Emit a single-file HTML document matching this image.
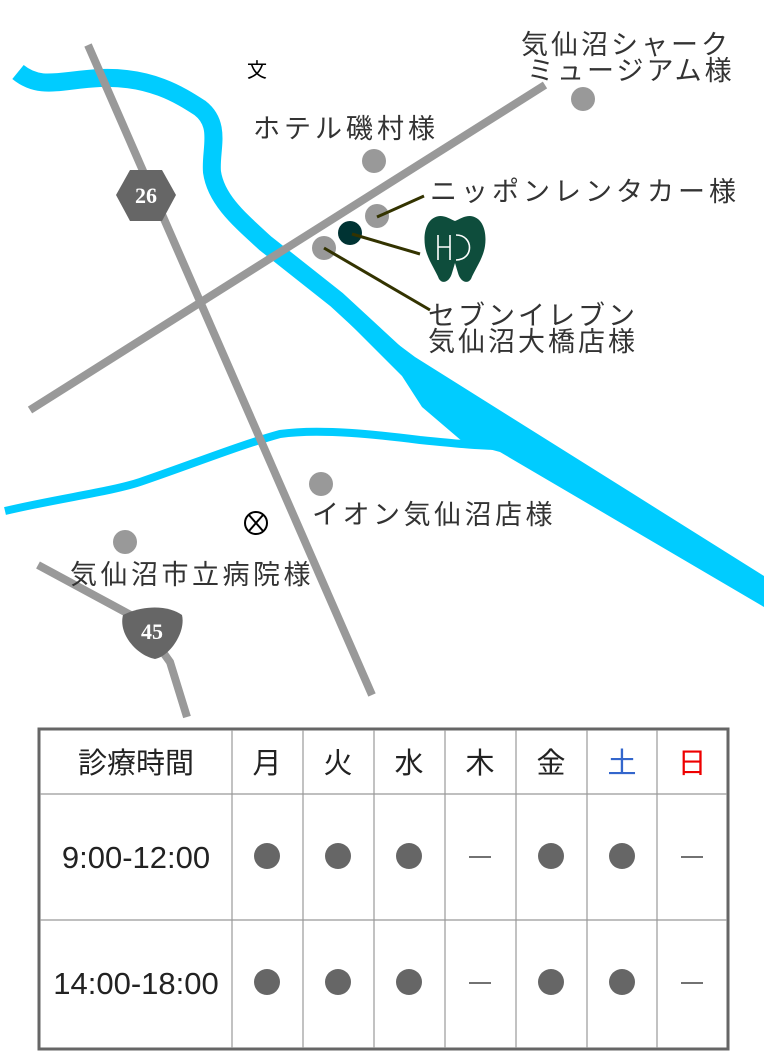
<!DOCTYPE html>
<html><head><meta charset="utf-8"><style>
html,body{margin:0;padding:0;background:#fff;}
svg{display:block;}
.l{font-family:"Liberation Sans","Noto Sans CJK JP",sans-serif;fill:#333;font-size:27px;}
.t{font-family:"Liberation Sans","Noto Sans CJK JP",sans-serif;fill:#222;font-size:29px;text-anchor:middle;}
</style></head><body>
<svg width="768" height="1056" viewBox="0 0 768 1056" xmlns="http://www.w3.org/2000/svg">
<!-- river -->
<path d="M18,72 C40,90 60,80 100,78 C150,76 180,95 200,108 C222,125 210,150 212,172 C216,200 240,220 265,243 L337,300 L415,372" fill="none" stroke="#00ccff" stroke-width="18"/>
<polygon points="330,304 402,376 422,407 463,442 500,452 764,607 764,576 415,357 344,304" fill="#00ccff"/>
<path d="M5,511 C60,498 110,492 140,482 C190,465 240,445 280,434 C320,428 380,435 420,440 C450,443 480,446 500,446" fill="none" stroke="#00ccff" stroke-width="8"/>
<!-- roads -->
<line x1="88" y1="45" x2="372" y2="695" stroke="#999" stroke-width="8"/>
<line x1="30" y1="410" x2="545" y2="85" stroke="#999" stroke-width="8"/>
<polyline points="38,565 140,620 170,662 187,717" fill="none" stroke="#999" stroke-width="8"/>
<!-- route shields -->
<polygon points="130,170 162,170 176,195 162,221 130,221 116,195" fill="#666"/>
<text x="146" y="203" font-family="Liberation Serif,serif" font-size="22" font-weight="bold" fill="#fff" text-anchor="middle">26</text>
<path d="M123,615 C145,604 170,606 182,615 C186,632 170,656 155,659 C138,656 118,635 123,615 Z" fill="#666"/>
<text x="152" y="639" font-family="Liberation Serif,serif" font-size="22" font-weight="bold" fill="#fff" text-anchor="middle">45</text>
<!-- symbols -->
<text x="257" y="77" font-size="20" text-anchor="middle" fill="#000" font-family="Noto Sans CJK JP,sans-serif">文</text>
<circle cx="256" cy="523" r="11" fill="none" stroke="#000" stroke-width="2"/>
<line x1="249" y1="515" x2="263" y2="531" stroke="#000" stroke-width="2"/>
<line x1="263" y1="515" x2="249" y2="531" stroke="#000" stroke-width="2"/>
<!-- POIs -->
<circle cx="374" cy="161" r="12" fill="#999"/>
<circle cx="583" cy="99" r="12" fill="#999"/>
<circle cx="377" cy="216" r="12" fill="#999"/>
<circle cx="324" cy="248" r="12" fill="#999"/>
<circle cx="350" cy="233" r="12" fill="#003333"/>
<circle cx="321" cy="484" r="12" fill="#999"/>
<circle cx="125" cy="542" r="12" fill="#999"/>
<!-- leader lines -->
<line x1="377" y1="217" x2="424" y2="196" stroke="#333300" stroke-width="3"/>
<line x1="352" y1="234" x2="420" y2="254" stroke="#333300" stroke-width="3"/>
<line x1="324" y1="248" x2="430" y2="310" stroke="#333300" stroke-width="3"/>
<!-- tooth logo -->
<path d="M440,216 C427,217 423,232 425,246 C427,259 435,269 439,279 C443,285 450,281 452,273 L455,263 L458,273 C460,281 467,285 471,279 C475,269 483,259 485,246 C487,232 483,217 470,216 C464,216 460,219 455,221 C450,219 446,216 440,216 Z" fill="#0e4d3c"/>
<path d="M438,235 V260 M438,247 H450 M450,235 V260 M456,235 C474,235 474,260 456,260" fill="none" stroke="#fff" stroke-width="1.6"/>
<!-- labels -->
<text class="l" x="253" y="138" letter-spacing="4">ホテル磯村様</text>
<text class="l" x="521" y="54" letter-spacing="3">気仙沼シャーク</text>
<text class="l" x="527" y="80" letter-spacing="3">ミュージアム様</text>
<text class="l" x="430" y="201" letter-spacing="4">ニッポンレンタカー様</text>
<text class="l" x="428" y="325" letter-spacing="3">セブンイレブン</text>
<text class="l" x="428" y="351" letter-spacing="3">気仙沼大橋店様</text>
<text class="l" x="312" y="524" letter-spacing="3.5">イオン気仙沼店様</text>
<text class="l" x="70" y="584" letter-spacing="3.5">気仙沼市立病院様</text>
<!-- table -->
<rect x="39" y="729" width="689" height="320" fill="#fff" stroke="#666" stroke-width="3"/>
<g stroke="#999" stroke-width="1.2">
<line x1="40" y1="794" x2="727" y2="794"/>
<line x1="40" y1="920" x2="727" y2="920"/>
<line x1="232" y1="730" x2="232" y2="1048"/>
<line x1="303" y1="730" x2="303" y2="1048"/>
<line x1="374" y1="730" x2="374" y2="1048"/>
<line x1="445" y1="730" x2="445" y2="1048"/>
<line x1="516" y1="730" x2="516" y2="1048"/>
<line x1="587" y1="730" x2="587" y2="1048"/>
<line x1="657" y1="730" x2="657" y2="1048"/>
</g>
<text class="t" x="136" y="773">診療時間</text>
<text class="t" x="267" y="773">月</text>
<text class="t" x="338" y="773">火</text>
<text class="t" x="409" y="773">水</text>
<text class="t" x="480" y="773">木</text>
<text class="t" x="551" y="773">金</text>
<text class="t" x="622" y="773" style="fill:#3366cc">土</text>
<text class="t" x="692" y="773" style="fill:#ee0000">日</text>
<text class="t" x="136" y="868" style="font-size:31px">9:00-12:00</text>
<text class="t" x="136" y="994" style="font-size:31px">14:00-18:00</text>
<g fill="#666">
<circle cx="267" cy="856" r="13"/><circle cx="338" cy="856" r="13"/><circle cx="409" cy="856" r="13"/>
<circle cx="551" cy="856" r="13"/><circle cx="622" cy="856" r="13"/>
<circle cx="267" cy="982" r="13"/><circle cx="338" cy="982" r="13"/><circle cx="409" cy="982" r="13"/>
<circle cx="551" cy="982" r="13"/><circle cx="622" cy="982" r="13"/>
</g>
<g stroke="#444" stroke-width="1.5">
<line x1="469" y1="857" x2="491" y2="857"/><line x1="681" y1="857" x2="703" y2="857"/>
<line x1="469" y1="983" x2="491" y2="983"/><line x1="681" y1="983" x2="703" y2="983"/>
</g>
</svg>
</body></html>
